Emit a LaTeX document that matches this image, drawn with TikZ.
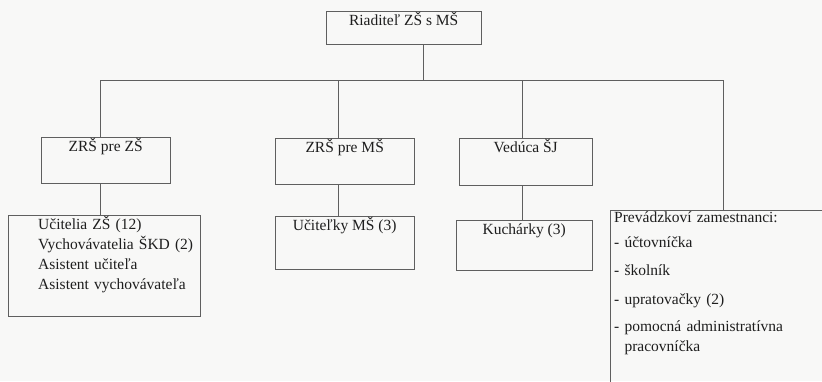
\documentclass[tikz,border=0pt]{standalone}
\usepackage{fontspec}
\setmainfont{Liberation Serif}
\definecolor{linegray}{RGB}{95,95,95}
\definecolor{textgray}{RGB}{30,30,30}
\definecolor{paper}{RGB}{248,248,247}

\begin{document}
\begin{tikzpicture}[x=1pt, y=-1pt,
    unit/.style ={draw=linegray, anchor=north west, inner xsep=0pt, inner ysep=3.5pt,
                  text height=11pt, text=textgray, font=\fontsize{15.5}{20}\selectfont},
    link/.style ={draw=linegray, line width=0.9pt}]
   \fill[paper] (0,0) rectangle (822,381);
   \useasboundingbox (0,0) rectangle (822,381);
   \clip (0,0) rectangle (822,381);

   \node[unit, minimum width=155pt, text depth=15pt] (R) at (326,11) {Riaditeľ ZŠ s MŠ};

   \node[unit, minimum width=129pt, text depth=28pt] (Z) at (41,137)  {ZRŠ pre ZŠ};
   \node[unit, minimum width=139pt, text depth=28pt] (M) at (275,138) {ZRŠ pre MŠ};
   \node[unit, minimum width=133pt, text depth=29pt] (J) at (459,138) {Vedúca ŠJ};

   \node[unit, text width=192pt, align=left, text depth=83pt] (U) at (8,215)
      {\leftskip=30pt Učitelia ZŠ (12)\\ Vychovávatelia ŠKD (2)\\ Asistent učiteľa\\ Asistent vychovávateľa\par};
   \node[unit, minimum width=139pt, text depth=35pt] (K) at (275,216) {Učiteľky MŠ (3)};
   \node[unit, minimum width=136pt, text depth=32pt] (C) at (456,220) {Kuchárky (3)};
   \node[unit, text width=240pt, align=left, text depth=200pt, inner ysep=1pt] (P) at (610,210)
      {\leftskip=4pt Prevádzkoví zamestnanci:\\[5pt] - účtovníčka\\[8pt] - školník\\[9pt]
       - upratovačky (2)\\[7pt] - pomocná administratívna\\ \hphantom{- }pracovníčka\par};

   \coordinate (b0) at (423,80);
   \coordinate (b1) at (100,80);
   \coordinate (b2) at (338,80);
   \coordinate (b3) at (522,80);
   \coordinate (b4) at (723,80);

   \draw[link] (R.south -| b0) to (b0);
   \draw[link] (b1) to (b4);

   \draw[link] (b1) to (b1 |- Z.north);
   \draw[link] (b2) to (b2 |- M.north);
   \draw[link] (b3) to (b3 |- J.north);
   \draw[link] (b4) to (b4 |- P.north);

   \draw[link] (Z.south -| b1) to (b1 |- U.north);
   \draw[link] (M.south -| b2) to (b2 |- K.north);
   \draw[link] (J.south -| b3) to (b3 |- C.north);
 \end{tikzpicture}
\end{document}
